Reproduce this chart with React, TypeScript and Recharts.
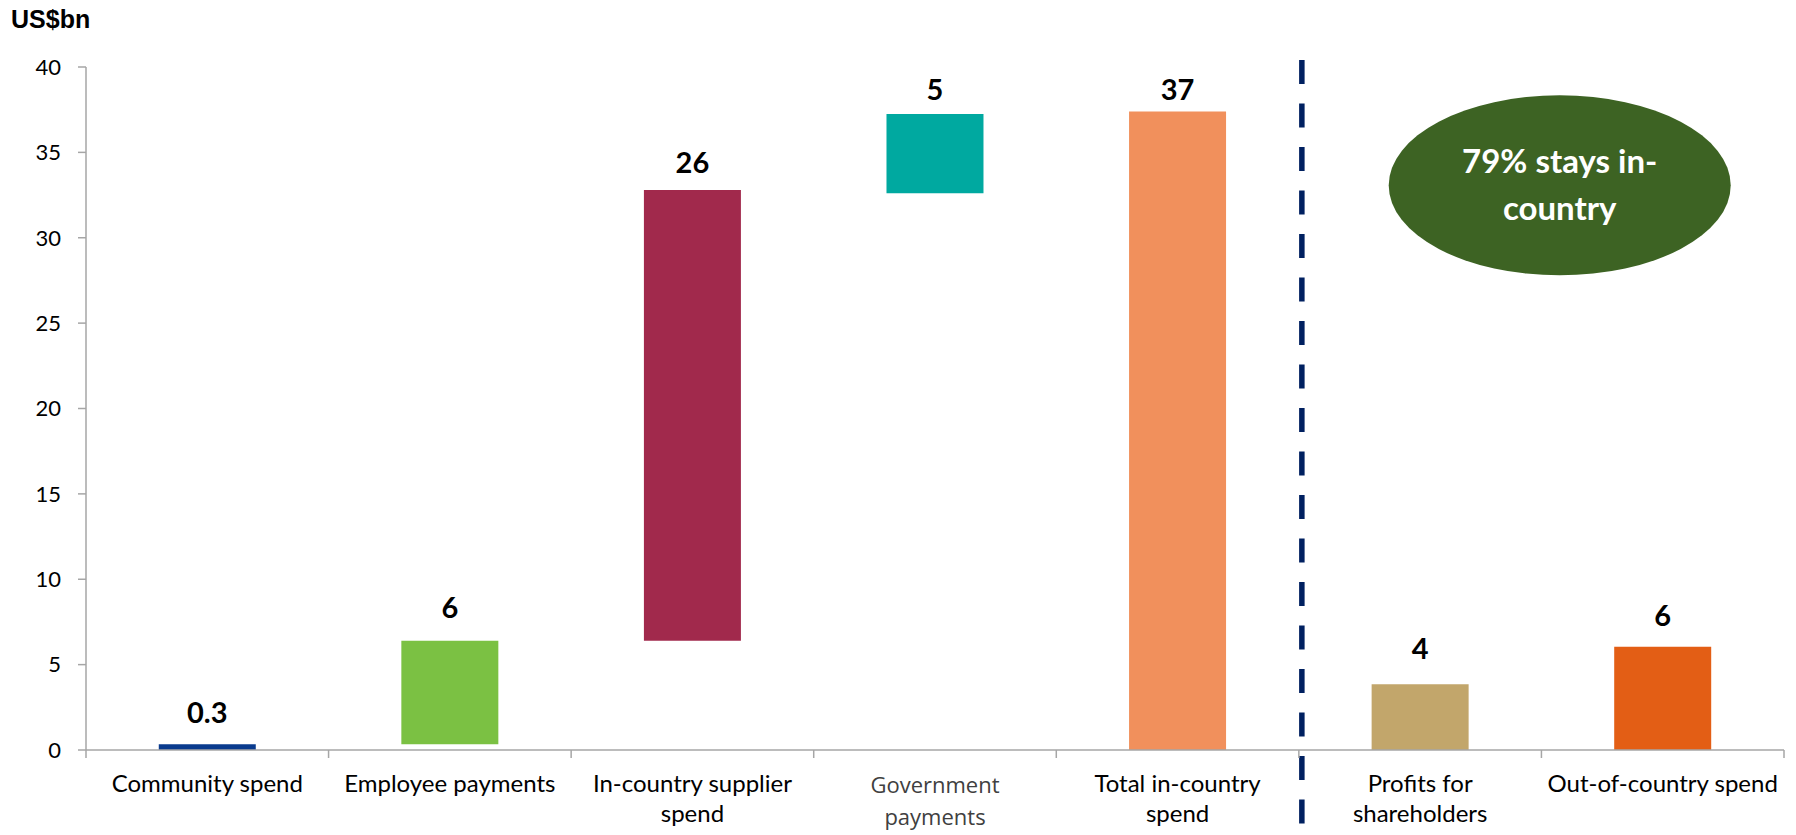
import React from 'react';
import {
  BarChart,
  Bar,
  XAxis,
  YAxis,
  Cell,
  LabelList,
  ReferenceLine,
  ReferenceDot,
} from 'recharts';

// categories and their two-line tick text
const categories = [
  'Community spend',
  'Employee payments',
  'In-country supplier spend',
  'Government payments',
  'Total in-country spend',
  'Profits for shareholders',
  'Out-of-country spend',
];
const tickLines: string[][] = [
  ['Community spend'],
  ['Employee payments'],
  ['In-country supplier', 'spend'],
  ['Government', 'payments'],
  ['Total in-country', 'spend'],
  ['Profits for', 'shareholders'],
  ['Out-of-country spend'],
];

// waterfall: invisible base + visible step (US$bn)
const baseValues = [0, 0.33, 6.4, 32.6, 0, 0, 0];
const stepValues = [0.33, 6.07, 26.4, 4.65, 37.4, 3.85, 6.05];
const valueLabels = ['0.3', '6', '26', '5', '37', '4', '6'];
const barColors = ['#0A3B8E', '#7BC143', '#A1294C', '#00A9A0', '#F1905C', '#C2A66B', '#E35E15'];

const yTicks = [0, 5, 10, 15, 20, 25, 30, 35, 40];

// label gap above each bar (px), the source placed them unevenly
const labelGaps = [32, 33, 27, 24, 22, 36, 31];

const data = categories.map((name, i) => ({
  name,
  base: baseValues[i],
  step: stepValues[i],
  label: valueLabels[i],
}));

const AXIS_GREY = '#A6A6A6';

const CategoryTick = (props: any) => {
  const { x, y, index, payload } = props;
  const half = payload && payload.offset ? payload.offset : 0;
  const lines = tickLines[index] || [];
  const isGov = index === 3;
  return (
    <g>
      <line x1={x - half} x2={x - half} y1={y} y2={y + 8} stroke={AXIS_GREY} strokeWidth={1.5} />
      {index === categories.length - 1 && (
        <line x1={x + half} x2={x + half} y1={y} y2={y + 8} stroke={AXIS_GREY} strokeWidth={1.5} />
      )}
      <text
        x={x}
        y={y}
        textAnchor='middle'
        fontFamily={isGov ? 'Open Sans' : 'Lato'}
        fontSize={isGov ? 22 : 24}
        fill={isGov ? '#404040' : '#000000'}
      >
        {lines.map((l, i) => (
          <tspan key={i} x={x} dy={i === 0 ? (isGov ? 43 : 42) : isGov ? 32 : 30}>
            {l}
          </tspan>
        ))}
      </text>
    </g>
  );
};

const ValueLabel = (props: any) => {
  const { x, y, width, value, index } = props;
  const gap = labelGaps[index] ?? 25;
  return (
    <text
      x={x + width / 2}
      y={y - gap}
      dy='0.36em'
      textAnchor='middle'
      fill='#000000'
      fontSize={29}
      fontWeight='bold'
      fontFamily='Lato'
    >
      {value}
    </text>
  );
};

const Bubble = (props: any) => {
  const { cx, cy } = props;
  const x = cx - 103;
  return (
    <g>
      <ellipse cx={x} cy={cy} rx={171} ry={90} fill='#3D6323' />
      <text textAnchor='middle' fill='#ffffff' fontFamily='Lato' fontWeight='bold' fontSize={33}>
        <tspan x={x} y={cy - 12}>79% stays in-</tspan>
        <tspan x={x} y={cy + 35}>country</tspan>
      </text>
    </g>
  );
};

const DividerLine = (props: any) => (
  <line
    x1={props.x1 + 3}
    x2={props.x2 + 3}
    y1={Math.min(props.y1, props.y2) - 7}
    y2={835}
    stroke='#002060'
    strokeWidth={5.5}
    strokeDasharray='24 19.5'
  />
);

export default function App() {
  return (
    <div style={{ position: 'absolute', left: 0, top: 0, width: 1796, height: 835, background: '#ffffff' }}>
      <div
        style={{
          position: 'absolute',
          left: 11,
          top: 7,
          fontFamily: 'Liberation Sans, Arial, sans-serif',
          fontWeight: 'bold',
          fontSize: 25,
          lineHeight: '25px',
          color: '#000',
        }}
      >
        US$bn
      </div>
      <BarChart
        width={1796}
        height={835}
        data={data}
        margin={{ top: 67, right: 12, bottom: 84, left: 0 }}
        barCategoryGap='30%'
      >
        <XAxis
          dataKey='name'
          type='category'
          height={1}
          axisLine={{ stroke: AXIS_GREY, strokeWidth: 1.5 }}
          tickLine={false}
          tickSize={0}
          tickMargin={0}
          interval={0}
          tick={<CategoryTick />}
        />
        <YAxis
          type='number'
          domain={[0, 40]}
          ticks={yTicks}
          width={86}
          tickSize={8}
          tickMargin={17}
          axisLine={{ stroke: AXIS_GREY, strokeWidth: 1.5 }}
          tickLine={{ stroke: AXIS_GREY, strokeWidth: 1.5 }}
          tick={{ fill: '#000000', fontSize: 22, fontFamily: 'Lato' }}
        />
        <Bar dataKey='base' stackId='w' fill='transparent' isAnimationActive={false} />
        <Bar dataKey='step' stackId='w' isAnimationActive={false}>
          {data.map((_, i) => (
            <Cell key={i} fill={barColors[i]} />
          ))}
          <LabelList dataKey='label' content={<ValueLabel />} />
        </Bar>
        <ReferenceLine
          x='Profits for shareholders'
          position='start'
          shape={<DividerLine />}
          ifOverflow='visible'
        />
        <ReferenceDot
          x='Out-of-country spend'
          y={33.07}
          r={1}
          shape={<Bubble />}
          ifOverflow='visible'
        />
      </BarChart>
    </div>
  );
}
